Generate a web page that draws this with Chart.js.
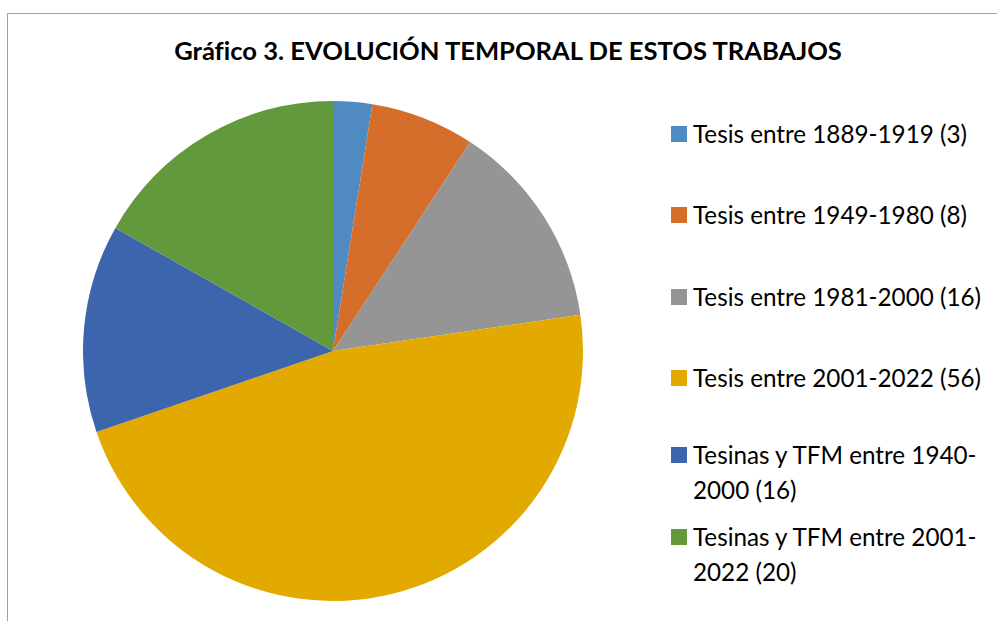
<!DOCTYPE html>
<html>
<head>
<meta charset="utf-8">
<script src="https://cdn.jsdelivr.net/npm/chart.js@4"></script>
<style>
  body { margin: 0; background: #fff; font-family: Lato, "Open Sans", sans-serif; }
  #page { position: relative; width: 997px; height: 621px; overflow: hidden; }
  #frame { position: absolute; left: 7px; top: 13px; width: 1000px; height: 620px; border: 1px solid #a0a0a0; }
  #title { position: absolute; left: 0; width: 1016px; top: 35px; text-align: center; font-weight: bold; color: #000; white-space: nowrap; font-variant-ligatures: none; }
  #pieBox { position: absolute; left: 83px; top: 101px; width: 500px; height: 500px; }
  #legend { position: absolute; left: 671px; top: 0; width: 320px; }
  .item { position: absolute; left: 0; display: flex; align-items: flex-start; }
  .box { width: 16px; height: 16px; margin-top: 10px; margin-right: 6px; flex: none; }
  .txt { width: 290px; line-height: 35px; color: #000; }
</style>
</head>
<body>
<div id="page">
  <div id="frame"></div>
  <div id="title">Gráfico 3. EVOLUCIÓN TEMPORAL DE ESTOS TRABAJOS</div>
  <div id="pieBox"><canvas id="pie"></canvas></div>
  <div id="legend"></div>
</div>
<script>
const labels = [
    'Tesis entre 1889-1919 (3)',
    'Tesis entre 1949-1980 (8)',
    'Tesis entre 1981-2000 (16)',
    'Tesis entre 2001-2022 (56)',
    'Tesinas y TFM entre 1940-2000 (16)',
    'Tesinas y TFM entre 2001-2022 (20)'
];
const counts = [3, 8, 16, 56, 16, 20];
const colors = ['#4f8bc1', '#d56e2b', '#959595', '#e2aa00', '#3d65ad', '#63993d'];

// fit font sizes to the widths seen in the reference
function fitSize(text, weight, target) {
    const ctx = document.createElement('canvas').getContext('2d');
    ctx.font = weight + ' 100px Lato';
    return 100 * target / ctx.measureText(text).width;
}
const title = document.getElementById('title');
title.style.fontSize = fitSize(title.textContent, 'bold', 670).toFixed(2) + 'px';
const legendSize = fitSize(labels[0], 'normal', 274).toFixed(2) + 'px';

// legend tops (first text line top)
const tops = [116, 197, 279, 360, 437, 519];
const legend = document.getElementById('legend');
labels.forEach((l, i) => {
    const item = document.createElement('div');
    item.className = 'item';
    item.style.top = tops[i] + 'px';
    const box = document.createElement('div');
    box.className = 'box';
    box.style.background = colors[i];
    const txt = document.createElement('div');
    txt.className = 'txt';
    txt.style.fontSize = legendSize;
    txt.textContent = l.replace(/(\d)-(\d)/g, '$1-\u200b$2');
    item.appendChild(box);
    item.appendChild(txt);
    legend.appendChild(item);
});

new Chart(document.getElementById('pie'), {
    type: 'pie',
    data: {
        labels,
        datasets: [{
            data: counts,
            backgroundColor: colors,
            borderWidth: 0
        }]
    },
    options: {
        responsive: true,
        maintainAspectRatio: false,
        animation: false,
        layout: { padding: 0 },
        plugins: {
            legend: { display: false },
            tooltip: { enabled: false }
        }
    }
});
</script>
</body>
</html>
